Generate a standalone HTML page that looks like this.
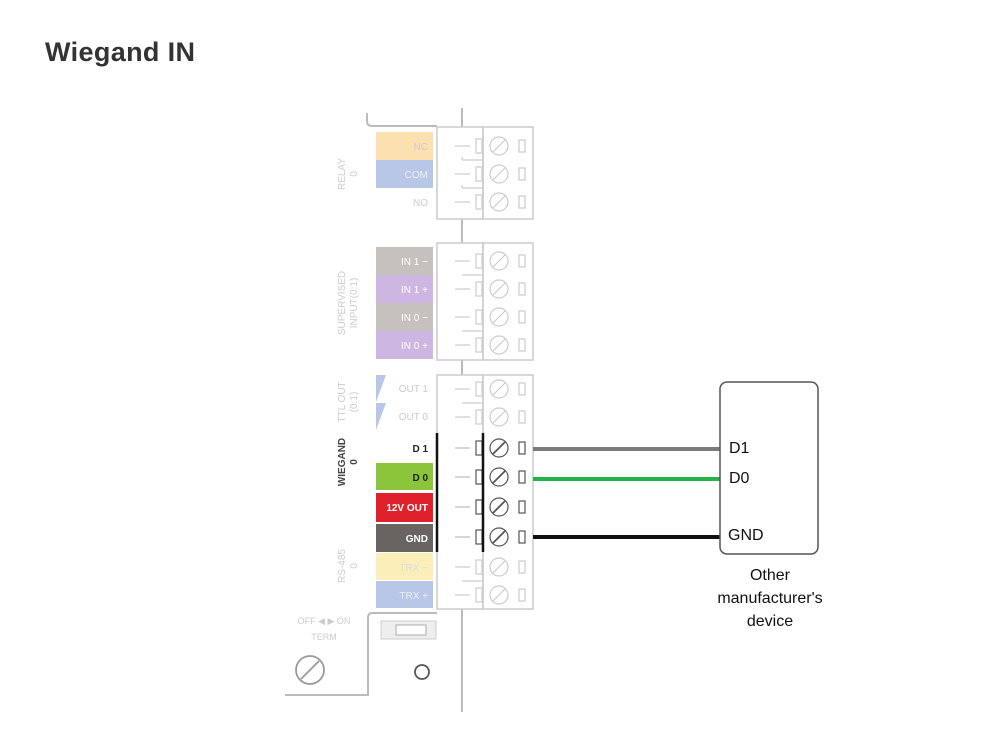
<!DOCTYPE html>
<html><head><meta charset="utf-8"><style>
html,body{margin:0;padding:0;background:#fff;width:1000px;height:731px;overflow:hidden}
svg{display:block}
text{font-family:"Liberation Sans",sans-serif}
</style></head><body>
<svg width="1000" height="731" viewBox="0 0 1000 731" xmlns="http://www.w3.org/2000/svg">
<text x="45" y="61" font-size="27" font-weight="bold" fill="#333" textLength="150">Wiegand IN</text>

<g stroke="#bbb" stroke-width="2" fill="none">
<path d="M367 113 V121 Q367 126 372 126 H437"/>
<line x1="462" y1="108" x2="462" y2="127"/>
<line x1="462" y1="219" x2="462" y2="243"/>
<line x1="462" y1="360" x2="462" y2="375"/>
<path d="M437 613 H372 Q368 613 368 618 V695 H285"/>
<line x1="462" y1="609" x2="462" y2="712"/>
</g>

<g font-size="10" text-anchor="end">
<rect x="376" y="132" width="57" height="28" fill="#fbe0b0"/><text x="428" y="150" fill="#ccc">NC</text>
<rect x="376" y="160" width="57" height="28" fill="#b8c6e8"/><text x="428" y="178" fill="#eee">COM</text>
<rect x="376" y="188" width="57" height="28" fill="#fff"/><text x="428" y="206" fill="#ccc">NO</text>
<rect x="376" y="247" width="57" height="28" fill="#c5c1bd"/><text x="428" y="265" fill="#fff">IN 1 −</text>
<rect x="376" y="275" width="57" height="28" fill="#cdb7e2"/><text x="428" y="293" fill="#fff">IN 1 +</text>
<rect x="376" y="303" width="57" height="28" fill="#c5c1bd"/><text x="428" y="321" fill="#fff">IN 0 −</text>
<rect x="376" y="331" width="57" height="28" fill="#cdb7e2"/><text x="428" y="349" fill="#fff">IN 0 +</text>
<polygon points="376,375 386,375 376,402" fill="#b8c6e8"/><text x="428" y="392" fill="#ccc">OUT 1</text>
<polygon points="376,403 386,403 376,430" fill="#b8c6e8"/><text x="428" y="420" fill="#ccc">OUT 0</text>
<text x="428" y="452" fill="#222" font-weight="bold">D 1</text>
<rect x="376" y="463" width="57" height="27" fill="#8cc43c"/><text x="428" y="481" fill="#222" font-weight="bold">D 0</text>
<rect x="376" y="493" width="57" height="29" fill="#e0212b"/><text x="428" y="511" fill="#fff" font-weight="bold">12V OUT</text>
<rect x="376" y="524" width="57" height="28" fill="#676462"/><text x="428" y="542" fill="#fff" font-weight="bold">GND</text>
<rect x="376" y="553" width="57" height="27" fill="#fbeeb8"/><text x="428" y="571" fill="#ddd">TRX −</text>
<rect x="376" y="581" width="57" height="27" fill="#b8c6e8"/><text x="428" y="599" fill="#eee">TRX +</text>
</g>

<g font-size="10" text-anchor="middle" fill="#ccc">
<text transform="translate(345,174) rotate(-90)">RELAY</text>
<text transform="translate(357,174) rotate(-90)">0</text>
<text transform="translate(345,303) rotate(-90)">SUPERVISED</text>
<text transform="translate(357,303) rotate(-90)">INPUT(0:1)</text>
<text transform="translate(345,402) rotate(-90)">TTL OUT</text>
<text transform="translate(357,402) rotate(-90)">(0:1)</text>
<text transform="translate(345,462) rotate(-90)" fill="#444" font-weight="bold">WIEGAND</text>
<text transform="translate(357,462) rotate(-90)" fill="#444" font-weight="bold">0</text>
<text transform="translate(345,566) rotate(-90)">RS-485</text>
<text transform="translate(357,566) rotate(-90)">0</text>
<text x="324" y="624" font-size="9">OFF ◀ ▶ ON</text>
<text x="324" y="640" font-size="9">TERM</text>
</g>

<g fill="none" stroke="#ccc" stroke-width="1.5">
<rect x="437" y="127" width="46" height="92"/><rect x="483" y="127" width="50" height="92"/>
<rect x="437" y="243" width="46" height="117"/><rect x="483" y="243" width="50" height="117"/>
<rect x="437" y="375" width="46" height="234"/><rect x="483" y="375" width="50" height="234"/>
</g>

<g fill="none" stroke-width="1.2">
<g stroke="#ccc">
<g transform="translate(0,146)"><line x1="455" y1="0" x2="470" y2="0"/><rect x="476" y="-7" width="6" height="14"/><circle cx="499" cy="0" r="9"/><line x1="493" y1="6" x2="505" y2="-6"/><rect x="519" y="-6" width="6" height="12"/></g>
<g transform="translate(0,174)"><line x1="455" y1="0" x2="470" y2="0"/><rect x="476" y="-7" width="6" height="14"/><circle cx="499" cy="0" r="9"/><line x1="493" y1="6" x2="505" y2="-6"/><rect x="519" y="-6" width="6" height="12"/></g>
<g transform="translate(0,202)"><line x1="455" y1="0" x2="470" y2="0"/><rect x="476" y="-7" width="6" height="14"/><circle cx="499" cy="0" r="9"/><line x1="493" y1="6" x2="505" y2="-6"/><rect x="519" y="-6" width="6" height="12"/></g>
<path d="M462 160 H482 M462 188 H482 M462 160 v-3 M462 188 v-3"/>
<g transform="translate(0,261)"><line x1="455" y1="0" x2="470" y2="0"/><rect x="476" y="-7" width="6" height="14"/><circle cx="499" cy="0" r="9"/><line x1="493" y1="6" x2="505" y2="-6"/><rect x="519" y="-6" width="6" height="12"/></g>
<g transform="translate(0,289)"><line x1="455" y1="0" x2="470" y2="0"/><rect x="476" y="-7" width="6" height="14"/><circle cx="499" cy="0" r="9"/><line x1="493" y1="6" x2="505" y2="-6"/><rect x="519" y="-6" width="6" height="12"/></g>
<g transform="translate(0,317)"><line x1="455" y1="0" x2="470" y2="0"/><rect x="476" y="-7" width="6" height="14"/><circle cx="499" cy="0" r="9"/><line x1="493" y1="6" x2="505" y2="-6"/><rect x="519" y="-6" width="6" height="12"/></g>
<g transform="translate(0,345)"><line x1="455" y1="0" x2="470" y2="0"/><rect x="476" y="-7" width="6" height="14"/><circle cx="499" cy="0" r="9"/><line x1="493" y1="6" x2="505" y2="-6"/><rect x="519" y="-6" width="6" height="12"/></g>
<path d="M462 275 H482 M462 331 H482"/>
<g transform="translate(0,389)"><line x1="455" y1="0" x2="470" y2="0"/><rect x="476" y="-7" width="6" height="14"/><circle cx="499" cy="0" r="9"/><line x1="493" y1="6" x2="505" y2="-6"/><rect x="519" y="-6" width="6" height="12"/></g>
<g transform="translate(0,417)"><line x1="455" y1="0" x2="470" y2="0"/><rect x="476" y="-7" width="6" height="14"/><circle cx="499" cy="0" r="9"/><line x1="493" y1="6" x2="505" y2="-6"/><rect x="519" y="-6" width="6" height="12"/></g>
<path d="M462 403 H482"/>
<g transform="translate(0,567)"><line x1="455" y1="0" x2="470" y2="0"/><rect x="476" y="-7" width="6" height="14"/><circle cx="499" cy="0" r="9"/><line x1="493" y1="6" x2="505" y2="-6"/><rect x="519" y="-6" width="6" height="12"/></g>
<g transform="translate(0,595)"><line x1="455" y1="0" x2="470" y2="0"/><rect x="476" y="-7" width="6" height="14"/><circle cx="499" cy="0" r="9"/><line x1="493" y1="6" x2="505" y2="-6"/><rect x="519" y="-6" width="6" height="12"/></g>
<path d="M462 581 H482"/>
</g>
<g stroke="#555">
<g transform="translate(0,448)"><line x1="455" y1="0" x2="470" y2="0" stroke="#bbb"/><rect x="476" y="-7" width="6" height="14"/><circle cx="499" cy="0" r="9"/><line x1="493" y1="6" x2="505" y2="-6" stroke-width="1.8"/><rect x="519" y="-6" width="6" height="12"/></g>
<g transform="translate(0,477)"><line x1="455" y1="0" x2="470" y2="0" stroke="#bbb"/><rect x="476" y="-7" width="6" height="14"/><circle cx="499" cy="0" r="9"/><line x1="493" y1="6" x2="505" y2="-6" stroke-width="1.8"/><rect x="519" y="-6" width="6" height="12"/></g>
<g transform="translate(0,507)"><line x1="455" y1="0" x2="470" y2="0" stroke="#bbb"/><rect x="476" y="-7" width="6" height="14"/><circle cx="499" cy="0" r="9"/><line x1="493" y1="6" x2="505" y2="-6" stroke-width="1.8"/><rect x="519" y="-6" width="6" height="12"/></g>
<g transform="translate(0,537)"><line x1="455" y1="0" x2="470" y2="0" stroke="#bbb"/><rect x="476" y="-7" width="6" height="14"/><circle cx="499" cy="0" r="9"/><line x1="493" y1="6" x2="505" y2="-6" stroke-width="1.8"/><rect x="519" y="-6" width="6" height="12"/></g>
</g>
</g>
<line x1="437" y1="433" x2="437" y2="552" stroke="#111" stroke-width="2.5"/>
<line x1="483" y1="433" x2="483" y2="552" stroke="#111" stroke-width="2.5"/>

<rect x="381" y="621" width="55" height="18" fill="#eee" stroke="#ccc"/>
<rect x="396" y="625" width="30" height="10" fill="#fff" stroke="#aaa"/>
<line x1="426" y1="625" x2="426" y2="635" stroke="#aaa"/>
<circle cx="422" cy="672" r="7" fill="none" stroke="#555" stroke-width="1.8"/>
<circle cx="310" cy="670" r="14" fill="none" stroke="#999" stroke-width="1.8"/>
<line x1="301" y1="679" x2="319" y2="661" stroke="#999" stroke-width="1.8"/>

<line x1="533" y1="449" x2="720" y2="449" stroke="#7a7a7a" stroke-width="4"/>
<line x1="533" y1="479" x2="720" y2="479" stroke="#25b24a" stroke-width="4"/>
<line x1="533" y1="537" x2="720" y2="537" stroke="#111" stroke-width="4"/>

<rect x="720" y="382" width="98" height="172" rx="7" fill="#fff" stroke="#555" stroke-width="1.5"/>
<g font-size="16" fill="#111">
<text x="729" y="453">D1</text>
<text x="729" y="483">D0</text>
<text x="728" y="540">GND</text>
<g text-anchor="middle"><text x="770" y="580">Other</text><text x="770" y="603">manufacturer's</text><text x="770" y="626">device</text></g>
</g>
</svg>
</body></html>
